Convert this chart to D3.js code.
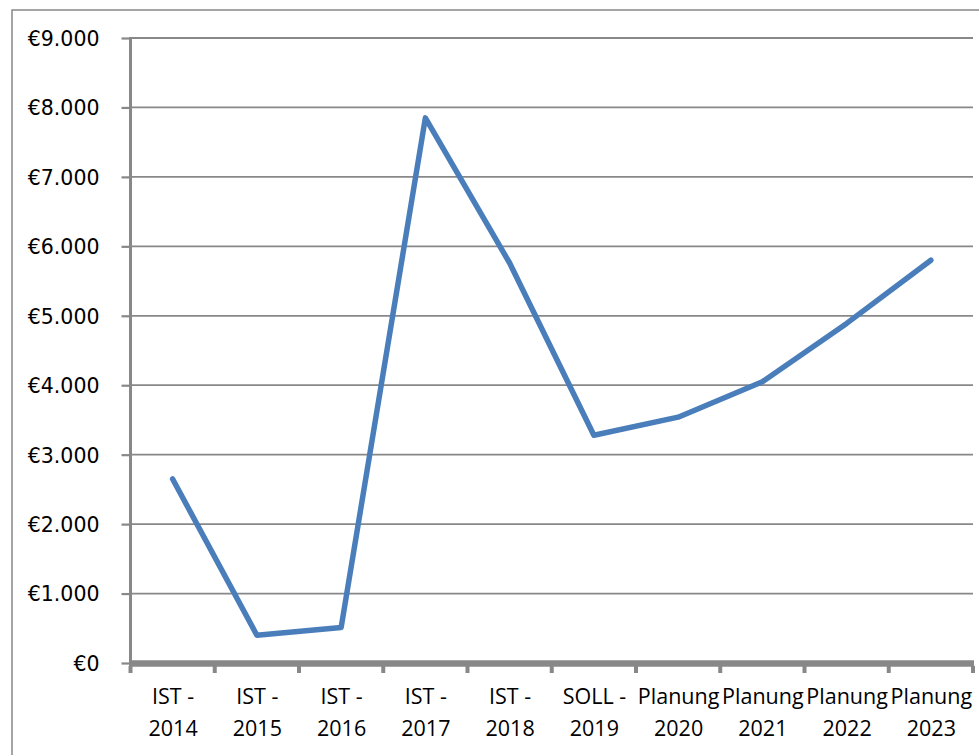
<!DOCTYPE html>
<html>
<head>
<meta charset="utf-8">
<script src="https://cdn.jsdelivr.net/npm/d3@7"></script>
<style>
  html, body { margin: 0; padding: 0; background: #fff; }
  svg { display: block; }
</style>
</head>
<body>
<svg id="chart" width="979" height="755"></svg>
<script>
const categories = [
  ["IST -", "2014"], ["IST -", "2015"], ["IST -", "2016"], ["IST -", "2017"], ["IST -", "2018"],
  ["SOLL -", "2019"], ["Planung", "2020"], ["Planung", "2021"], ["Planung", "2022"], ["Planung", "2023"]
];
const values = [2650, 400, 510, 7850, 5760, 3280, 3540, 4050, 4890, 5800];
const yTicks = [0, 1000, 2000, 3000, 4000, 5000, 6000, 7000, 8000, 9000];

(function () {
const svg = d3.select("#chart");
const pLeft = 130.5, pRight = 973, pTop = 38, pBottom = 663;

// outer border
svg.append("rect").attr("x", 12).attr("y", 10).attr("width", 1000).attr("height", 1000)
  .attr("fill", "none").attr("stroke", "#888").attr("stroke-width", 1.5);

const x = d3.scaleBand().domain(d3.range(categories.length)).range([pLeft, pRight]).padding(0);
const y = d3.scaleLinear().domain([0, 9000]).range([pBottom, pTop]);

const fmt = v => "€" + (v === 0 ? "0" : d3.format(",")(v).replace(/,/g, "."));

// gridlines
svg.append("g").selectAll("line").data(yTicks.filter(d => d > 0)).join("line")
  .attr("x1", pLeft).attr("x2", pRight)
  .attr("y1", d => y(d)).attr("y2", d => y(d))
  .attr("stroke", "#888").attr("stroke-width", 1.8);

// y axis
const yAxis = d3.axisLeft(y).tickValues(yTicks).tickFormat(fmt).tickSize(9).tickPadding(22);
const gy = svg.append("g").attr("transform", `translate(${pLeft},0)`).call(yAxis);
gy.select(".domain").remove();
gy.selectAll(".tick line").attr("stroke", "#888").attr("stroke-width", 2.2);
gy.selectAll(".tick text").attr("font-family", "DejaVu Sans").attr("font-size", 20.5)
  .attr("fill", "#000").attr("dy", "0.36em");
svg.append("line").attr("x1", pLeft).attr("x2", pLeft).attr("y1", pTop - 1).attr("y2", pBottom)
  .attr("stroke", "#888").attr("stroke-width", 3);

// x axis
svg.append("line").attr("x1", pLeft - 1.5).attr("x2", pRight + 1).attr("y1", pBottom + 0.5).attr("y2", pBottom + 0.5)
  .attr("stroke", "#888").attr("stroke-width", 6.5);
const bounds = d3.range(categories.length + 1).map(i => i < categories.length ? x(i) : x(i - 1) + x.bandwidth());
svg.append("g").selectAll("line").data(bounds).join("line")
  .attr("x1", d => d).attr("x2", d => d).attr("y1", pBottom + 3).attr("y2", pBottom + 10)
  .attr("stroke", "#888").attr("stroke-width", 4);

const xl = svg.append("g").selectAll("text").data(categories).join("text")
  .attr("x", (d, i) => x(i) + x.bandwidth() / 2 + 0.5)
  .attr("text-anchor", "middle")
  .attr("font-family", "Open Sans").attr("font-size", 21.5).attr("fill", "#000");
xl.append("tspan").attr("x", (d, i) => x(i) + x.bandwidth() / 2 + 0.5).attr("y", 703.5).text(d => d[0]);
xl.append("tspan").attr("x", (d, i) => x(i) + x.bandwidth() / 2 + 0.5).attr("y", 735.5).text(d => d[1]);

// line
const line = d3.line().x((d, i) => x(i) + x.bandwidth() / 2).y(d => y(d));
svg.append("path").datum(values).attr("d", line)
  .attr("fill", "none").attr("stroke", "#4a7ebb").attr("stroke-width", 5.5)
  .attr("stroke-linejoin", "round").attr("stroke-linecap", "round");
})();
</script>
</body>
</html>
